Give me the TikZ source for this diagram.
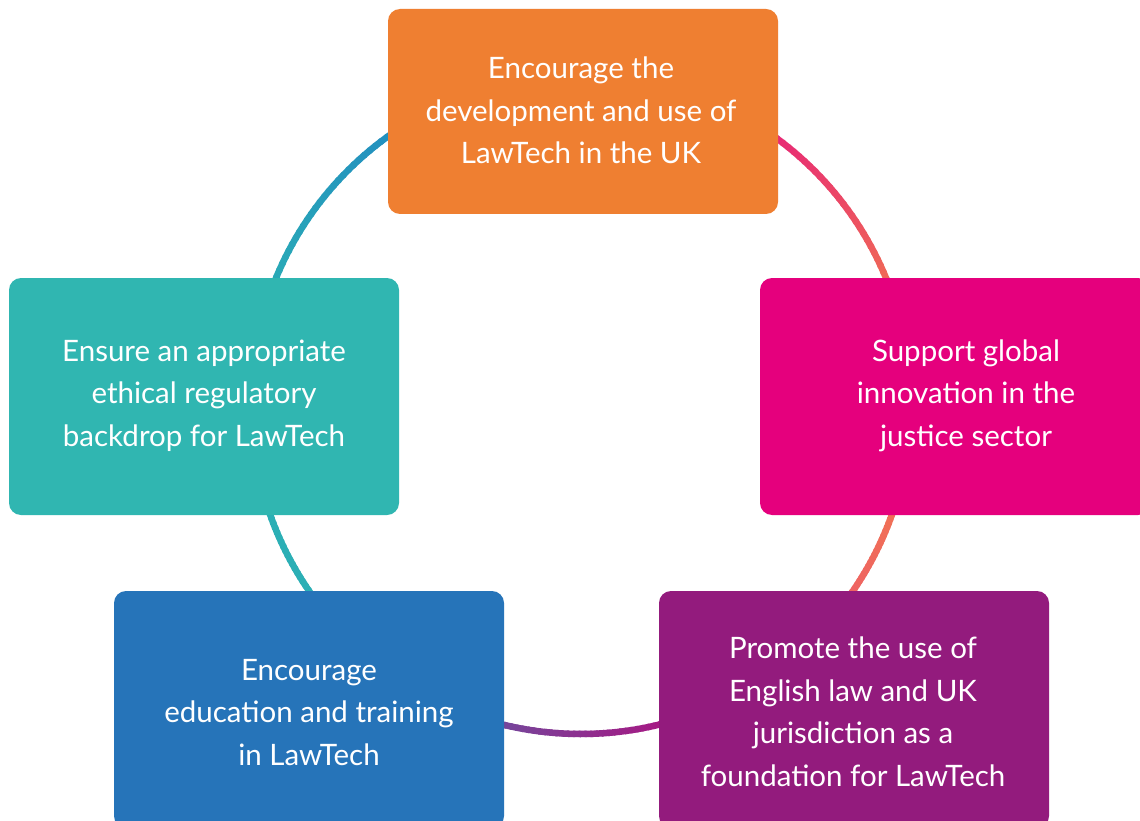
\documentclass[tikz,border=0pt]{standalone}
\usepackage{fontspec}
\setmainfont{Lato}
\definecolor{cOrange}{HTML}{EF7F31}
\definecolor{cPink}{HTML}{E5007D}
\definecolor{cTeal}{HTML}{30B6B1}
\definecolor{cBlue}{HTML}{2674B9}
\definecolor{cPurple}{HTML}{931B7D}
\definecolor{rBlue}{HTML}{2088C2}
\definecolor{rTeal}{HTML}{2BAFB5}
\definecolor{rMagenta}{HTML}{E5157F}
\definecolor{rOrange}{HTML}{F17650}
\definecolor{rSalmon}{HTML}{EE5E68}
\definecolor{rViolet}{HTML}{6A50A0}
\definecolor{rBerry}{HTML}{B0107F}
\newcommand\gradarc[4]{%
  \foreach \k in {1,...,40}{%
    \pgfmathsetmacro\aa{#1+(#2-#1)*(\k-1)/40}%
    \pgfmathsetmacro\bb{#1+(#2-#1)*\k/40+0.4*sign(#2-#1)}%
    \pgfmathtruncatemacro\pp{100*(\k-0.5)/40}%
    \draw[ring, draw=#4!\pp!#3] ([shift={(\aa:330)}]C) arc[start angle=\aa, end angle=\bb, radius=330];
  }%
}
\begin{document}
\begin{tikzpicture}[x=1pt,y=-1pt,
  ring/.style={line width=6.5pt, line cap=butt},
  card/.style={rounded corners=12pt, inner sep=0pt, minimum width=390pt},
  label/.style={text=white, align=center, inner sep=0pt, font=\fontsize{29.5}{42.5}\selectfont}]
\clip (0,0) rectangle (1140,821);
\fill[white] (0,0) rectangle (1140,821);
\coordinate (C) at (581,404);
% ring segments
\gradarc{195}{245}{rTeal}{rBlue}
\gradarc{295}{345}{rMagenta}{rOrange}
\gradarc{12}{42}{rOrange}{rSalmon}
\gradarc{70}{110}{rBerry}{rViolet}
\gradarc{135}{170}{rTeal}{rTeal}
% cards
\node[card, fill=cOrange, minimum height=205pt] (b1) at (583,111.5) {};
\node[card, fill=cPink, minimum height=237pt] (b2) at (955,396.5) {};
\node[card, fill=cPurple, minimum height=237pt] (b3) at (854,709.5) {};
\node[card, fill=cBlue, minimum height=237pt] (b4) at (309,709.5) {};
\node[card, fill=cTeal, minimum height=237pt] (b5) at (204,396.5) {};
% texts
\node[label] (t1) at (581,110.5) {Encourage the\\development and use of\\LawTech in the UK};
\node[label] (t2) at (966,395.5) {Support global\\innovation in the\\justice sector};
\node[label] (t3) at (853,711.5) {Promote the use of\\English law and UK\\jurisdiction as a\\foundation for LawTech};
\node[label] (t4) at (309,712.5) {Encourage\\education and training\\in LawTech};
\node[label] (t5) at (204,395.5) {Ensure an appropriate\\ethical regulatory\\backdrop for LawTech};
\end{tikzpicture}
\end{document}
